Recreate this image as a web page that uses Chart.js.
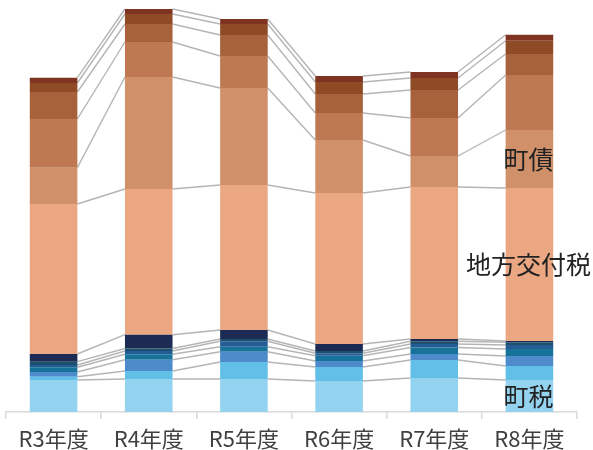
<!DOCTYPE html>
<html>
<head>
<meta charset="utf-8">
<script src="https://cdn.jsdelivr.net/npm/chart.js@4/dist/chart.umd.min.js"></script>
<style>
  html, body { margin: 0; padding: 0; background: #fff; }
  #wrap { position: relative; width: 593px; height: 450px; }
</style>
</head>
<body>
<div id="wrap"><canvas id="chart"></canvas></div>
<script>
// years
const years = ['R3年度', 'R4年度', 'R5年度', 'R6年度', 'R7年度', 'R8年度'];

// revenue items, bottom to top
const townTax      = [320, 330, 330, 310, 340, 320];   // 町税
const transferTax  = [33, 80, 170, 140, 180, 140];
const consumptTax  = [47, 113, 103, 60, 60, 100];
const grants       = [47, 54, 50, 53, 65, 70];
const charges      = [23, 33, 54, 24, 35, 40];
const fees         = [33, 25, 23, 23, 27, 27];
const otherSmall   = [77, 138, 90, 70, 23, 13];
const allocTax     = [1500, 1457, 1450, 1510, 1520, 1530]; // 地方交付税
const townBond     = [363, 1120, 970, 530, 310, 580];      // 町債
const natSubsidy   = [487, 350, 320, 270, 380, 550];
const prefSubsidy  = [270, 180, 210, 190, 280, 210];
const transfers    = [90, 100, 110, 120, 120, 133];
const misc         = [53, 50, 50, 60, 60, 60];

const series = [
  ['町税', townTax, '#93D3F0'],
  ['地方譲与税', transferTax, '#62BFE7'],
  ['地方消費税交付金', consumptTax, '#4D8BCB'],
  ['各種交付金', grants, '#17739A'],
  ['分担金及び負担金', charges, '#245C95'],
  ['使用料及び手数料', fees, '#1D4F6E'],
  ['その他', otherSmall, '#1B2B54'],
  ['地方交付税', allocTax, '#EBA782'],
  ['町債', townBond, '#D09069'],
  ['国庫支出金', natSubsidy, '#BE7852'],
  ['県支出金', prefSubsidy, '#A7623C'],
  ['繰入金', transfers, '#8E4B25'],
  ['諸収入', misc, '#7E3420']
];

// names written on the last bar
const labelled = ['町税', '地方交付税', '町債'];

const FONT = '"Noto Sans CJK JP", "Noto Sans", sans-serif';

// Excel style series lines between neighbouring bars
const seriesLines = {
  id: 'seriesLines',
  beforeDatasetsDraw(chart) {
    const ctx = chart.ctx;
    ctx.save();
    ctx.strokeStyle = '#b5b5b5';
    ctx.lineWidth = 1.4;
    chart.data.datasets.forEach((ds, i) => {
      const bars = chart.getDatasetMeta(i).data;
      for (let j = 0; j < bars.length - 1; j++) {
        const a = bars[j], b = bars[j + 1];
        ctx.beginPath();
        ctx.moveTo(a.x + a.width / 2, a.y);
        ctx.lineTo(b.x - b.width / 2, b.y);
        ctx.stroke();
      }
    });
    ctx.restore();
  }
};

const seriesNames = {
  id: 'seriesNames',
  afterDatasetsDraw(chart) {
    const ctx = chart.ctx;
    ctx.save();
    ctx.font = '25px ' + FONT;
    ctx.fillStyle = '#222';
    ctx.textAlign = 'center';
    ctx.textBaseline = 'middle';
    chart.data.datasets.forEach((ds, i) => {
      if (!labelled.includes(ds.label)) return;
      const bars = chart.getDatasetMeta(i).data;
      const el = bars[bars.length - 1];
      ctx.fillText(ds.label, el.x - 1, (el.y + el.base) / 2);
    });
    ctx.restore();
  }
};

new Chart(document.getElementById('chart'), {
  type: 'bar',
  data: {
    labels: years,
    datasets: series.map(s => ({
      label: s[0],
      data: s[1],
      backgroundColor: s[2],
      borderWidth: 0,
      barPercentage: 0.5,
      categoryPercentage: 1
    }))
  },
  options: {
    responsive: true,
    maintainAspectRatio: false,
    animation: false,
    layout: { padding: { left: 6, right: 16, top: 0, bottom: 0 } },
    plugins: {
      legend: { display: false },
      tooltip: { enabled: false }
    },
    scales: {
      x: {
        stacked: true,
        grid: {
          drawOnChartArea: false,
          drawTicks: true,
          tickLength: 7,
          color: '#d9d9d9',
          lineWidth: 1.5
        },
        border: { color: '#d9d9d9', width: 1.5 },
        ticks: {
          color: '#404040',
          padding: 6,
          font: { family: FONT, size: 22 }
        },
        afterFit(scale) { scale.height = 38; }
      },
      y: {
        stacked: true,
        display: false,
        min: 0,
        max: 4120
      }
    }
  },
  plugins: [seriesLines, seriesNames]
});
</script>
</body>
</html>
